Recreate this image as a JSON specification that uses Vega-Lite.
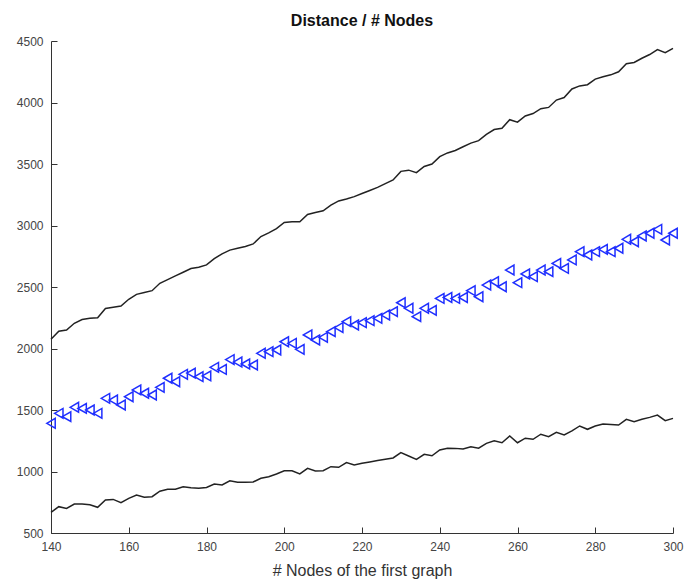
{
  "$schema": "https://vega.github.io/schema/vega-lite/v6.json",
  "width": 622,
  "height": 492,
  "autosize": "none",
  "padding": {"left": 51, "top": 41, "right": 15, "bottom": 50},
  "background": "white",
  "config": {
    "view": {"stroke": null},
    "font": "Liberation Sans",
    "axis": {"grid": false, "domainColor": "#333", "tickColor": "#333", "labelColor": "#444", "labelFontSize": 12, "titleFontSize": 16, "titleFontWeight": "normal", "titleColor": "#333", "domainWidth": 1, "tickWidth": 1, "labelFont": "Liberation Sans", "titleFont": "Liberation Sans"}
  },
  "title": {"text": "Distance / # Nodes", "fontSize": 16, "fontWeight": "bold", "color": "#111", "offset": 6, "font": "Liberation Sans"},
  "data": {"values": [
    {"n":140,"lower":668,"mean":1392,"upper":2075},
    {"n":142,"lower":714,"mean":1473,"upper":2140},
    {"n":144,"lower":700,"mean":1446,"upper":2150},
    {"n":146,"lower":735,"mean":1522,"upper":2205},
    {"n":148,"lower":735,"mean":1513,"upper":2235},
    {"n":150,"lower":730,"mean":1500,"upper":2245},
    {"n":152,"lower":709,"mean":1473,"upper":2250},
    {"n":154,"lower":768,"mean":1595,"upper":2325},
    {"n":156,"lower":773,"mean":1581,"upper":2335},
    {"n":158,"lower":746,"mean":1541,"upper":2345},
    {"n":160,"lower":782,"mean":1608,"upper":2400},
    {"n":162,"lower":809,"mean":1663,"upper":2440},
    {"n":164,"lower":790,"mean":1636,"upper":2455},
    {"n":166,"lower":795,"mean":1622,"upper":2470},
    {"n":168,"lower":840,"mean":1684,"upper":2530},
    {"n":170,"lower":855,"mean":1758,"upper":2560},
    {"n":172,"lower":855,"mean":1730,"upper":2590},
    {"n":174,"lower":876,"mean":1790,"upper":2620},
    {"n":176,"lower":868,"mean":1800,"upper":2650},
    {"n":178,"lower":863,"mean":1771,"upper":2660},
    {"n":180,"lower":870,"mean":1777,"upper":2680},
    {"n":182,"lower":898,"mean":1847,"upper":2730},
    {"n":184,"lower":890,"mean":1830,"upper":2770},
    {"n":186,"lower":925,"mean":1910,"upper":2800},
    {"n":188,"lower":912,"mean":1890,"upper":2815},
    {"n":190,"lower":912,"mean":1874,"upper":2830},
    {"n":192,"lower":915,"mean":1866,"upper":2850},
    {"n":194,"lower":945,"mean":1961,"upper":2910},
    {"n":196,"lower":958,"mean":1974,"upper":2940},
    {"n":198,"lower":980,"mean":1988,"upper":2975},
    {"n":200,"lower":1006,"mean":2055,"upper":3025},
    {"n":202,"lower":1006,"mean":2042,"upper":3030},
    {"n":204,"lower":980,"mean":1993,"upper":3030},
    {"n":206,"lower":1026,"mean":2110,"upper":3090},
    {"n":208,"lower":1004,"mean":2069,"upper":3105},
    {"n":210,"lower":1006,"mean":2091,"upper":3120},
    {"n":212,"lower":1039,"mean":2137,"upper":3165},
    {"n":214,"lower":1034,"mean":2170,"upper":3200},
    {"n":216,"lower":1072,"mean":2218,"upper":3215},
    {"n":218,"lower":1053,"mean":2191,"upper":3235},
    {"n":220,"lower":1067,"mean":2210,"upper":3260},
    {"n":222,"lower":1078,"mean":2226,"upper":3285},
    {"n":224,"lower":1090,"mean":2245,"upper":3310},
    {"n":226,"lower":1100,"mean":2272,"upper":3340},
    {"n":228,"lower":1110,"mean":2300,"upper":3370},
    {"n":230,"lower":1153,"mean":2372,"upper":3440},
    {"n":232,"lower":1126,"mean":2327,"upper":3450},
    {"n":234,"lower":1099,"mean":2259,"upper":3430},
    {"n":236,"lower":1140,"mean":2327,"upper":3480},
    {"n":238,"lower":1128,"mean":2310,"upper":3500},
    {"n":240,"lower":1175,"mean":2407,"upper":3560},
    {"n":242,"lower":1189,"mean":2415,"upper":3590},
    {"n":244,"lower":1188,"mean":2407,"upper":3610},
    {"n":246,"lower":1183,"mean":2415,"upper":3640},
    {"n":248,"lower":1201,"mean":2470,"upper":3670},
    {"n":250,"lower":1189,"mean":2421,"upper":3690},
    {"n":252,"lower":1229,"mean":2516,"upper":3740},
    {"n":254,"lower":1250,"mean":2543,"upper":3780},
    {"n":256,"lower":1234,"mean":2502,"upper":3790},
    {"n":258,"lower":1289,"mean":2638,"upper":3860},
    {"n":260,"lower":1234,"mean":2535,"upper":3840},
    {"n":262,"lower":1271,"mean":2606,"upper":3890},
    {"n":264,"lower":1262,"mean":2584,"upper":3910},
    {"n":266,"lower":1303,"mean":2638,"upper":3950},
    {"n":268,"lower":1283,"mean":2625,"upper":3960},
    {"n":270,"lower":1319,"mean":2692,"upper":4020},
    {"n":272,"lower":1297,"mean":2651,"upper":4040},
    {"n":274,"lower":1330,"mean":2720,"upper":4110},
    {"n":276,"lower":1370,"mean":2787,"upper":4135},
    {"n":278,"lower":1343,"mean":2760,"upper":4145},
    {"n":280,"lower":1370,"mean":2787,"upper":4190},
    {"n":282,"lower":1386,"mean":2806,"upper":4210},
    {"n":284,"lower":1382,"mean":2787,"upper":4225},
    {"n":286,"lower":1378,"mean":2815,"upper":4250},
    {"n":288,"lower":1424,"mean":2888,"upper":4315},
    {"n":290,"lower":1405,"mean":2868,"upper":4325},
    {"n":292,"lower":1424,"mean":2915,"upper":4360},
    {"n":294,"lower":1440,"mean":2937,"upper":4390},
    {"n":296,"lower":1459,"mean":2969,"upper":4430},
    {"n":298,"lower":1413,"mean":2882,"upper":4405},
    {"n":300,"lower":1432,"mean":2937,"upper":4440}
  ]},
  "encoding": {
    "x": {"field": "n", "type": "quantitative", "scale": {"domain": [140, 300], "nice": false, "zero": false},
      "axis": {"title": "# Nodes of the first graph", "format": "d", "values": [140,160,180,200,220,240,260,280,300], "tickSize": -6, "labelPadding": 14, "titlePadding": 10, "labelFlush": false}}
  },
  "layer": [
    {"mark": {"type": "line", "color": "#222", "strokeWidth": 1.5},
     "encoding": {"y": {"field": "upper", "type": "quantitative", "scale": {"domain": [500, 4500], "nice": false, "zero": false},
       "axis": {"title": null, "format": "d", "values": [500,1000,1500,2000,2500,3000,3500,4000,4500], "tickSize": -6, "labelPadding": 14}}}},
    {"mark": {"type": "line", "color": "#222", "strokeWidth": 1.5},
     "encoding": {"y": {"field": "lower", "type": "quantitative"}}},
    {"mark": {"type": "point", "shape": "triangle-left", "filled": false, "color": "#1f2fff", "size": 95, "strokeWidth": 1.5, "opacity": 1},
     "encoding": {"y": {"field": "mean", "type": "quantitative"}}}
  ]
}
